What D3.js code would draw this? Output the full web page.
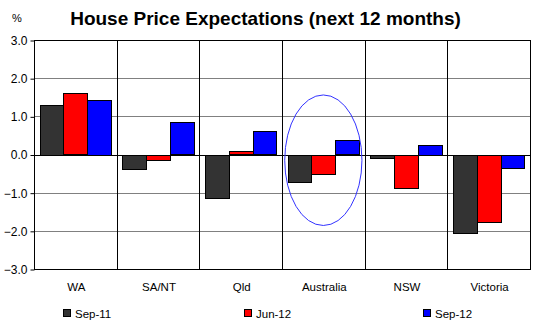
<!DOCTYPE html>
<html>
<head>
<meta charset="utf-8">
<script src="https://cdn.jsdelivr.net/npm/d3@7"></script>
<style>
  body { margin: 0; background: #fff; }
  text { font-family: "Liberation Sans", Arial, sans-serif; fill: #000; }
</style>
</head>
<body>
<div id="chart"></div>
<script>
// chart data
var categories = ["WA", "SA/NT", "Qld", "Australia", "NSW", "Victoria"];
var seriesNames = ["Sep-11", "Jun-12", "Sep-12"];
var sep11 = [1.31, -0.37, -1.12, -0.70, -0.08, -2.04];
var jun12 = [1.60, -0.13, 0.09, -0.50, -0.86, -1.75];
var sep12 = [1.44, 0.84, 0.61, 0.37, 0.26, -0.34];
var yTicks = [-3, -2, -1, 0, 1, 2, 3];
var colors = ["#333333", "#ff0000", "#0000ff"];
var highlight = { category: "Australia", top: 1.56, bottom: -1.86 };

var W = 543, H = 327;
var margin = { left: 34, right: 13, top: 40, bottom: 58 };

var svg = d3.select("#chart").append("svg")
    .attr("width", W)
    .attr("height", H);

var x = d3.scaleBand()
    .domain(categories)
    .range([margin.left, W - margin.right])
    .paddingInner(0)
    .paddingOuter(0);

var xs = d3.scaleBand()
    .domain(seriesNames)
    .range([0, x.bandwidth()])
    .paddingInner(0)
    .paddingOuter(0.245);

var y = d3.scaleLinear()
    .domain([-3, 3])
    .range([H - margin.bottom, margin.top]);

var series = [sep11, jun12, sep12];
var bars = [];
series.forEach(function (vals, si) {
    vals.forEach(function (v, ci) {
        bars.push({ cat: categories[ci], name: seriesNames[si], value: v, color: colors[si] });
    });
});

var px = function (v) { return Math.round(v) + 0.5; };

// gridlines
svg.append("g")
    .selectAll("line")
    .data(yTicks.filter(function (t) { return t !== 0 && Math.abs(t) !== 3; }))
    .join("line")
    .attr("x1", margin.left)
    .attr("x2", W - margin.right)
    .attr("y1", function (d) { return px(y(d)); })
    .attr("y2", function (d) { return px(y(d)); })
    .attr("stroke", "#808080")
    .attr("stroke-width", 1);

// category dividers
svg.append("g")
    .selectAll("line")
    .data(categories.slice(1))
    .join("line")
    .attr("x1", function (d) { return px(x(d)); })
    .attr("x2", function (d) { return px(x(d)); })
    .attr("y1", y(3))
    .attr("y2", y(-3))
    .attr("stroke", "#000");

// bars
svg.append("g")
    .selectAll("rect")
    .data(bars)
    .join("rect")
    .attr("x", function (d) { return Math.round(x(d.cat) + xs(d.name)) + 0.5; })
    .attr("width", function (d) {
        var a = Math.round(x(d.cat) + xs(d.name));
        var b = Math.round(x(d.cat) + xs(d.name) + xs.bandwidth());
        return b - a;
    })
    .attr("y", function (d) { return px(y(Math.max(0, d.value))); })
    .attr("height", function (d) { return Math.round(Math.abs(y(d.value) - y(0))); })
    .attr("fill", function (d) { return d.color; })
    .attr("stroke", "#000")
    .attr("stroke-width", 1);

// zero line
svg.append("line")
    .attr("x1", margin.left)
    .attr("x2", W - margin.right)
    .attr("y1", px(y(0)))
    .attr("y2", px(y(0)))
    .attr("stroke", "#000");

// frame
svg.append("rect")
    .attr("x", px(margin.left))
    .attr("y", px(y(3)))
    .attr("width", Math.round(W - margin.right) - Math.round(margin.left))
    .attr("height", Math.round(y(-3)) - Math.round(y(3)))
    .attr("fill", "none")
    .attr("stroke", "#000");

// y axis
var yAxis = d3.axisLeft(y)
    .tickValues(yTicks)
    .tickSize(4)
    .tickPadding(3)
    .tickFormat(d3.format(".1f"));

var gy = svg.append("g")
    .attr("transform", "translate(" + px(margin.left) + ",0.5)")
    .call(yAxis);
gy.select(".domain").remove();
gy.selectAll(".tick line").attr("stroke", "#000");
gy.selectAll(".tick text")
    .style("font-size", "12px")
    .style("font-family", "Liberation Sans, Arial, sans-serif")
    .attr("fill", "#000");

// x labels
svg.append("g")
    .selectAll("text")
    .data(categories)
    .join("text")
    .attr("x", function (d) { return x(d) + x.bandwidth() / 2 + 1; })
    .attr("y", 291)
    .attr("text-anchor", "middle")
    .style("font-size", "11.5px")
    .text(function (d) { return d; });

// ellipse annotation
var ex = x(highlight.category) + x.bandwidth() / 2;
svg.append("ellipse")
    .attr("cx", ex)
    .attr("cy", (y(highlight.top) + y(highlight.bottom)) / 2)
    .attr("rx", x.bandwidth() * 0.467)
    .attr("ry", (y(highlight.bottom) - y(highlight.top)) / 2)
    .attr("fill", "none")
    .attr("stroke", "#3333ff")
    .attr("stroke-width", 1);

// title
svg.append("text")
    .attr("x", 265.5)
    .attr("y", 25)
    .attr("text-anchor", "middle")
    .style("font-size", "19px")
    .style("font-weight", "bold")
    .text("House Price Expectations (next 12 months)");

svg.append("text")
    .attr("x", 12)
    .attr("y", 22)
    .style("font-size", "11px")
    .text("%");

// legend
var legendX = [63, 244, 423];
var lg = svg.append("g")
    .selectAll("g")
    .data(seriesNames)
    .join("g")
    .attr("transform", function (d, i) { return "translate(" + legendX[i] + ",309)"; });
lg.append("rect")
    .attr("x", 0.5)
    .attr("y", 0.5)
    .attr("width", 7)
    .attr("height", 7)
    .attr("fill", function (d, i) { return colors[i]; })
    .attr("stroke", "#000");
lg.append("text")
    .attr("x", 12)
    .attr("y", 8.5)
    .style("font-size", "11.5px")
    .text(function (d) { return d; });
</script>
</body>
</html>
